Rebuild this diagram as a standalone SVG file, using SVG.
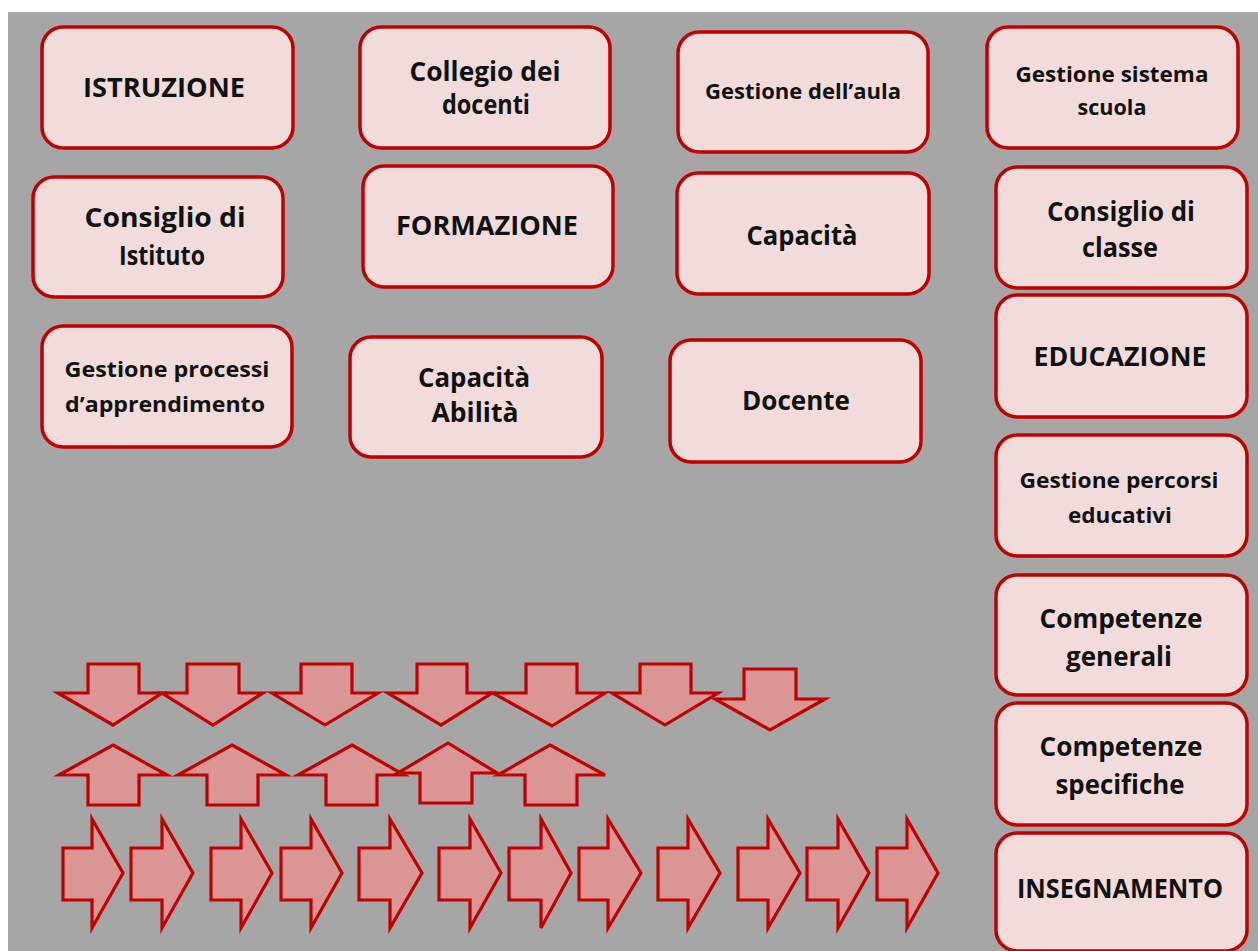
<svg xmlns="http://www.w3.org/2000/svg" width="1258" height="951" viewBox="0 0 1258 951">
<style>
.box{fill:#F2DCDB;stroke:#C00000;stroke-width:3.5}
.arr{fill:#DA9694;stroke:#C00000;stroke-width:3.2;stroke-linejoin:miter}
text{font-family:"Open Sans","Liberation Sans",sans-serif;font-weight:700;fill:#111;text-anchor:middle}
.b{font-size:26px}
.s{font-size:21.5px}
</style>
<rect x="0" y="0" width="1258" height="951" fill="#FFFFFF"/>
<rect x="8" y="12" width="1250" height="939" fill="#A6A6A6"/>

<g id="n-istruzione"><rect class="box" x="42" y="27" width="251" height="121" rx="21"/><text class="b" x="164" y="97" textLength="162" lengthAdjust="spacingAndGlyphs">ISTRUZIONE</text></g>
<g id="n-collegio"><rect class="box" x="360" y="27" width="250" height="121" rx="21"/><text class="b" x="485" y="81" textLength="151" lengthAdjust="spacingAndGlyphs">Collegio dei</text><text class="b" x="486" y="114" textLength="88" lengthAdjust="spacingAndGlyphs">docenti</text></g>
<g id="n-aula"><rect class="box" x="678" y="32" width="250" height="120" rx="21"/><text class="s" x="803" y="99" textLength="196" lengthAdjust="spacingAndGlyphs">Gestione dell’aula</text></g>
<g id="n-sistema"><rect class="box" x="987" y="27" width="251" height="121" rx="21"/><text class="s" x="1112" y="82" textLength="193" lengthAdjust="spacingAndGlyphs">Gestione sistema</text><text class="s" x="1112" y="115" textLength="69" lengthAdjust="spacingAndGlyphs">scuola</text></g>

<g id="n-consiglio-istituto"><rect class="box" x="33" y="177" width="250" height="120" rx="21"/><text class="b" x="165" y="227" textLength="161" lengthAdjust="spacingAndGlyphs">Consiglio di</text><text class="b" x="162" y="265" textLength="86" lengthAdjust="spacingAndGlyphs">Istituto</text></g>
<g id="n-formazione"><rect class="box" x="363" y="166" width="250" height="121" rx="21"/><text class="b" x="487" y="235" textLength="182" lengthAdjust="spacingAndGlyphs">FORMAZIONE</text></g>
<g id="n-capacita"><rect class="box" x="677" y="173" width="252" height="121" rx="21"/><text class="b" x="802" y="245" textLength="111" lengthAdjust="spacingAndGlyphs">Capacità</text></g>
<g id="n-consiglio-classe"><rect class="box" x="996" y="167" width="251" height="121" rx="21"/><text class="b" x="1121" y="221" textLength="148" lengthAdjust="spacingAndGlyphs">Consiglio di</text><text class="b" x="1120" y="257" textLength="76" lengthAdjust="spacingAndGlyphs">classe</text></g>

<g id="n-processi"><rect class="box" x="42" y="326" width="250" height="121" rx="21"/><text class="s" x="167" y="377" textLength="205" lengthAdjust="spacingAndGlyphs">Gestione processi</text><text class="s" x="165" y="412" textLength="200" lengthAdjust="spacingAndGlyphs">d’apprendimento</text></g>
<g id="n-capacita-abilita"><rect class="box" x="350" y="337" width="252" height="120" rx="21"/><text class="b" x="474" y="387" textLength="112" lengthAdjust="spacingAndGlyphs">Capacità</text><text class="b" x="475" y="422" textLength="87" lengthAdjust="spacingAndGlyphs">Abilità</text></g>
<g id="n-docente"><rect class="box" x="670" y="340" width="251" height="122" rx="21"/><text class="b" x="796" y="410" textLength="108" lengthAdjust="spacingAndGlyphs">Docente</text></g>
<g id="n-educazione"><rect class="box" x="996" y="295" width="251" height="122" rx="21"/><text class="b" x="1120" y="366" textLength="173" lengthAdjust="spacingAndGlyphs">EDUCAZIONE</text></g>
<g id="n-percorsi"><rect class="box" x="996" y="435" width="251" height="121" rx="21"/><text class="s" x="1119" y="488" textLength="199" lengthAdjust="spacingAndGlyphs">Gestione percorsi</text><text class="s" x="1120" y="523" textLength="104" lengthAdjust="spacingAndGlyphs">educativi</text></g>
<g id="n-comp-generali"><rect class="box" x="996" y="575" width="251" height="120" rx="21"/><text class="b" x="1121" y="628" textLength="163" lengthAdjust="spacingAndGlyphs">Competenze</text><text class="b" x="1119" y="666" textLength="106" lengthAdjust="spacingAndGlyphs">generali</text></g>
<g id="n-comp-specifiche"><rect class="box" x="996" y="703" width="251" height="122" rx="21"/><text class="b" x="1121" y="756" textLength="163" lengthAdjust="spacingAndGlyphs">Competenze</text><text class="b" x="1120" y="794" textLength="129" lengthAdjust="spacingAndGlyphs">specifiche</text></g>
<g id="n-insegnamento"><rect class="box" x="996" y="833" width="251" height="118" rx="21"/><text class="b" x="1120" y="898" textLength="206" lengthAdjust="spacingAndGlyphs">INSEGNAMENTO</text></g>

<g id="connectors">
<g id="down-arrows">
<polygon class="arr" points="88,664 139,664 139,693 162,693 113,725 58,693 88,693"/>
<polygon class="arr" points="187,664 239,664 239,693 263,693 213,725 162,693 187,693"/>
<polygon class="arr" points="301,664 352,664 352,693 378,693 325,725 272,693 301,693"/>
<polygon class="arr" points="417,664 467,664 467,693 492,693 441,725 388,693 417,693"/>
<polygon class="arr" points="526,664 577,664 577,693 605,693 552,726 493,693 526,693"/>
<polygon class="arr" points="640,664 691,664 691,693 718,693 665,725 612,693 640,693"/>
<polygon class="arr" points="744,669 796,669 796,699 825,699 770,730 715,699 744,699"/>
</g>
<g id="up-arrows">
<polygon class="arr" points="113,745 167,775 139,775 139,805 88,805 88,775 59,775"/>
<polygon class="arr" points="232,745 286,775 258,775 258,805 207,805 207,775 178,775"/>
<polygon class="arr" points="352,745 404,775 377,775 377,805 326,805 326,775 298,775"/>
<polygon class="arr" points="448,743 497,773 472,773 472,803 420,803 420,773 398,773"/>
<polygon class="arr" points="550,745 605,775 577,775 577,805 525,805 525,775 498,775"/>
</g>
<g id="right-arrows">
<polygon class="arr" points="63,848 92,848 92,819 123,873 92,928 92,900 63,900"/>
<polygon class="arr" points="131,848 162,848 162,819 193,873 162,928 162,900 131,900"/>
<polygon class="arr" points="211,848 241,848 241,819 272,873 241,928 241,900 211,900"/>
<polygon class="arr" points="281,848 311,848 311,819 342,873 311,928 311,900 281,900"/>
<polygon class="arr" points="359,848 390,848 390,819 422,873 390,928 390,900 359,900"/>
<polygon class="arr" points="439,848 470,848 470,819 501,873 470,928 470,900 439,900"/>
<polygon class="arr" points="509,848 541,848 541,819 571,873 541,928 541,900 509,900"/>
<polygon class="arr" points="579,848 608,848 608,819 641,873 608,928 608,900 579,900"/>
<polygon class="arr" points="658,848 688,848 688,819 720,873 688,928 688,900 658,900"/>
<polygon class="arr" points="738,848 768,848 768,819 800,873 768,928 768,900 738,900"/>
<polygon class="arr" points="807,848 838,848 838,819 869,873 838,928 838,900 807,900"/>
<polygon class="arr" points="877,848 907,848 907,819 938,873 907,928 907,900 877,900"/>
</g>
</g>
</svg>
